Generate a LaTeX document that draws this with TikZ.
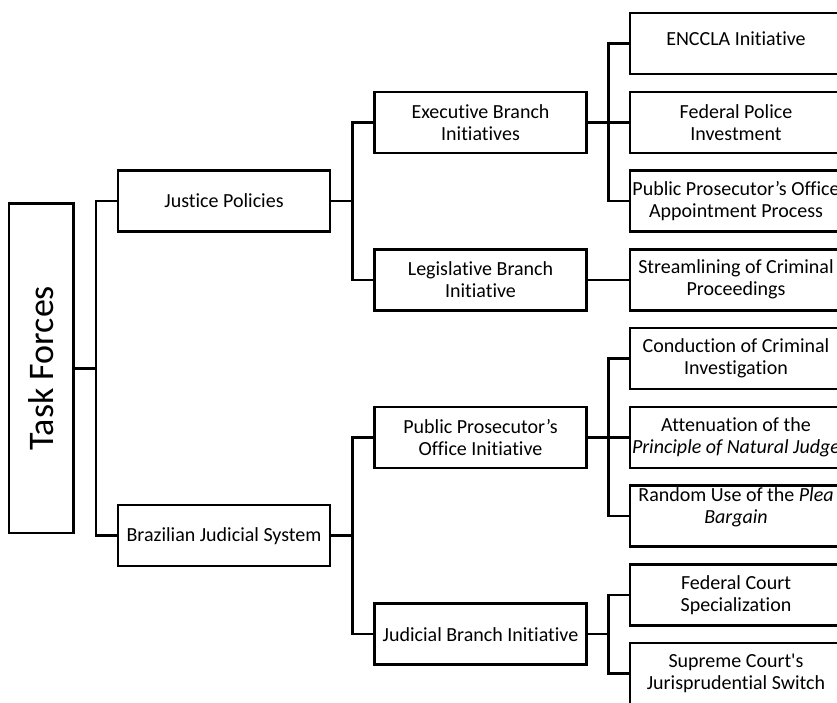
\documentclass[tikz,border=0pt]{standalone}
\usepackage{fontspec}
\setmainfont{Carlito}[Ligatures={TeX,NoCommon}]
\usepackage{graphicx}
\usetikzlibrary{positioning, calc}

\tikzset{
box/.style={draw, line width=2.5pt, outer sep=0pt, inner sep=2pt,
  minimum width=212pt, minimum height=61pt, align=center,
  font=\fontsize{20}{22}\selectfont},
link/.style={line width=2.5pt}
}

\begin{document}
\begin{tikzpicture}

\clip (0,0) rectangle (837pt,-702pt);

\node (enccla) [box, text depth=10pt] at (736pt,-43.5pt) {ENCCLA Initiative};
\node (police) [box, below=17.75pt of enccla] {Federal Police\\Investment};
\node (appoint) [box, below=17.75pt of police] {Public Prosecutor’s Office\\Appointment Process};
\node (stream) [box, below=17.75pt of appoint] {Streamlining of Criminal\\Proceedings};
\node (conduct) [box, below=17.75pt of stream] {Conduction of Criminal\\Investigation};
\node (attenu) [box, below=17.75pt of conduct] {Attenuation of the\\\textit{Principle of Natural Judge}};
\node (plea) [box, text depth=21pt, below=17.75pt of attenu] {Random Use of the \textit{Plea}\\\textit{Bargain}};
\node (fedcourt) [box, below=17.75pt of plea] {Federal Court\\Specialization};
\node (supreme) [box, below=17.75pt of fedcourt] {Supreme Court\textquotesingle s\\Jurisprudential Switch};

\node (exec) [box, left=43.5pt of police] {Executive Branch\\Initiatives};
\node (legis) [box, left=43.5pt of stream] {Legislative Branch\\Initiative};
\node (ppo) [box, left=43.5pt of attenu] {Public Prosecutor’s\\Office Initiative};
\coordinate (jmid) at ($(fedcourt.west)!.5!(supreme.west)$);
\node (judicial) [box, left=43.5pt of jmid] {Judicial Branch Initiative};

\coordinate (upmid) at ($(exec.west)!.5!(legis.west)$);
\coordinate (lowmid) at ($(ppo.west)!.5!(judicial.west)$);
\node (justice) [box, left=44.5pt of upmid] {Justice Policies};
\node (brazil) [box, left=44.5pt of lowmid] {Brazilian Judicial System};

\coordinate (tfmid) at ($(justice.west)!.5!(brazil.west)$);
\node (task) [draw, line width=2.5pt, outer sep=0pt, inner sep=0pt,
  minimum width=64.5pt, minimum height=329.5pt, left=44.5pt of tfmid]
  {\rotatebox{90}{\fontsize{36}{40}\selectfont Task Forces}};

\foreach \b in {justice, brazil}
  \draw[link] (task.east) -- ++(22.25pt,0) |- (\b.west);
\foreach \a/\b in {justice/exec, justice/legis, brazil/ppo, brazil/judicial}
  \draw[link] (\a.east) -- ++(22.25pt,0) |- (\b.west);
\foreach \a/\b in {exec/enccla, exec/police, exec/appoint, legis/stream,
  ppo/conduct, ppo/attenu, ppo/plea, judicial/fedcourt, judicial/supreme}
  \draw[link] (\a.east) -- ++(21.75pt,0) |- (\b.west);

\end{tikzpicture}
\end{document}
